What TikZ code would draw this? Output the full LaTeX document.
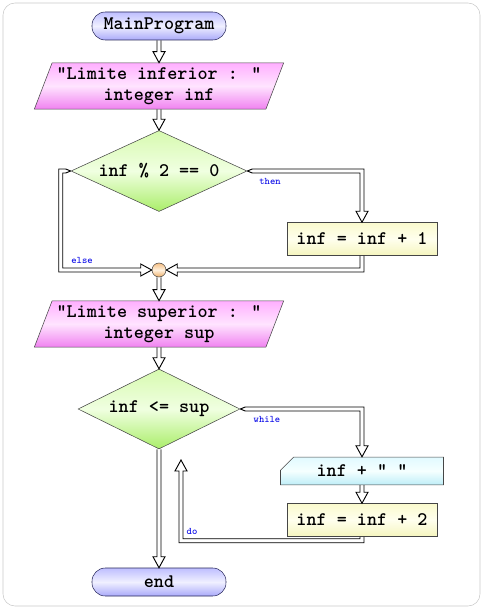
\documentclass[tikz,border=0pt]{standalone}
\usepackage{fontspec}
\usetikzlibrary{shapes.geometric,shapes.misc,calc}
\definecolor{framegray}{RGB}{200,200,200}
\definecolor{boxline}{RGB}{70,70,70}
\definecolor{termline}{RGB}{40,40,90}
\definecolor{termtop}{RGB}{190,190,255}
\definecolor{termmid}{RGB}{240,240,255}
\definecolor{termbot}{RGB}{170,170,250}
\definecolor{iotop}{RGB}{255,175,255}
\definecolor{iomid}{RGB}{255,228,255}
\definecolor{iobot}{RGB}{240,130,240}
\definecolor{dectop}{RGB}{215,250,175}
\definecolor{decmid}{RGB}{240,255,225}
\definecolor{decbot}{RGB}{170,238,105}
\definecolor{proctop}{RGB}{250,250,205}
\definecolor{procmid}{RGB}{255,255,238}
\definecolor{procbot}{RGB}{245,245,190}
\definecolor{outtop}{RGB}{225,250,255}
\definecolor{outmid}{RGB}{245,255,255}
\definecolor{outbot}{RGB}{190,238,248}
\definecolor{juntop}{RGB}{245,190,130}
\definecolor{junmid}{RGB}{255,240,220}
\definecolor{junbot}{RGB}{238,175,105}
\definecolor{tagblue}{RGB}{0,0,230}
\tikzset{
  x=0.75pt, y=-0.75pt,
}
\tikzstyle{flow}=[line width=0.7pt,line join=miter]
\tikzstyle{every node}=[font=\ttfamily\bfseries\fontsize{14.4}{15.75}\selectfont]
\tikzstyle{terminal}=[draw=termline,rounded corners=10pt,minimum width=100.5pt,minimum height=21pt,top color=termtop,bottom color=termbot,middle color=termmid]
\tikzstyle{io}=[trapezium,trapezium left angle=69,trapezium right angle=111,trapezium stretches body,minimum width=183.75pt,minimum height=31.5pt,align=center,draw=boxline,top color=iotop,bottom color=iobot,middle color=iomid]
\tikzstyle{decision}=[diamond,aspect=2.2,inner sep=0pt,minimum width=132pt,minimum height=60.75pt,draw=boxline,top color=dectop,bottom color=decbot,middle color=decmid]
\tikzstyle{process}=[rectangle,minimum width=112.5pt,minimum height=24.75pt,draw=boxline,top color=proctop,bottom color=procbot,middle color=procmid]
\tikzstyle{output}=[chamfered rectangle,chamfered rectangle corners=north west,chamfered rectangle xsep=5pt,chamfered rectangle ysep=5pt,minimum width=122.25pt,minimum height=15pt,inner sep=1pt,draw=boxline,top color=outtop,bottom color=outbot,middle color=outmid]
\tikzstyle{junction}=[circle,minimum size=10.5pt,inner sep=0pt,draw=boxline,top color=juntop,bottom color=junbot,middle color=junmid]
\tikzstyle{tag}=[font=\ttfamily\fontsize{7.5}{8}\selectfont,text=tagblue,inner sep=0pt]
\newcommand{\vflow}[2]{\draw[flow] ($(#1)+(-2,0)$) |- ($(#2)+(-6,-11)$) -- (#2) -- ($(#2)+(6,-11)$) -| ($(#1)+(2,0)$);}
\newcommand{\rdflow}[2]{\draw[flow] (#1) -- ($(#1)+(5,-2)$) -| ($(#2)+(2,-11)$) -- ($(#2)+(6,-11)$) -- (#2) -- ($(#2)+(-6,-11)$) -- ($(#2)+(-2,-11)$) |- ($(#1)+(5,2)$) -- (#1);}

\begin{document}
\begin{tikzpicture}
    \useasboundingbox (0,0) rectangle (484,610);
    \draw[framegray,rounded corners=9pt] (3,3) rectangle (480,606);

    \node[terminal] (start) at (159,26) {MainProgram};
    \node[io] (readinf) at (159,86) {"Limite inferior : "\\integer inf};
    \node[decision] (iseven) at (159,171) {inf \% 2 == 0};
    \node[process] (incone) at (362,239) {inf = inf + 1};
    \node[junction] (merge) at (159,270) {};
    \node[io] (readsup) at (159,324) {"Limite superior : "\\integer sup};
    \node[decision,minimum width=121.5pt,minimum height=60pt] (loop) at (159,409) {inf <= sup};
    \node[output] (print) at (362,471) {inf + " "};
    \node[process] (inctwo) at (362,520) {inf = inf + 2};
    \node[terminal] (stop) at (159,582) {end};
    \coordinate (elsebend) at ($(iseven.west)+(-10,0)$);
    \coordinate (back) at (181,460);

    \vflow{start.south}{readinf.north}
    \vflow{readinf.south}{iseven.north}
    \rdflow{iseven.east}{incone.north}
    \draw[flow] (iseven.west) -- ($(iseven.west)+(-5,-2)$) -- ($(elsebend)+(-2,-2)$) |- ($(merge.west)+(-11,2)$) -- ($(merge.west)+(-11,6)$) -- (merge.west) -- ($(merge.west)+(-11,-6)$) -- ($(merge.west)+(-11,-2)$) -| ($(elsebend)+(2,2)$) -- ($(iseven.west)+(-5,2)$) -- (iseven.west);
    \draw[flow] ($(incone.south)+(2,0)$) |- ($(merge.east)+(11,2)$) -- ($(merge.east)+(11,6)$) -- (merge.east) -- ($(merge.east)+(11,-6)$) -- ($(merge.east)+(11,-2)$) -| ($(incone.south)+(-2,0)$);
    \vflow{merge.south}{readsup.north}
    \vflow{readsup.south}{loop.north}
    \rdflow{loop.east}{print.north}
    \vflow{print.south}{inctwo.north}
    \draw[flow] ($(inctwo.south)+(2,0)$) -- ($(inctwo.south)+(2,6)$) -| ($(back)+(-2,11)$) -- ($(back)+(-6,11)$) -- (back) -- ($(back)+(6,11)$) -- ($(back)+(2,11)$) |- ($(inctwo.south)+(-2,2)$) -- ($(inctwo.south)+(-2,0)$);
    \vflow{loop.south}{stop.north}

    \node[tag] (tthen) at (270,181) {then};
    \node[tag] (telse) at (82,260) {else};
    \node[tag] (twhile) at (267,419) {while};
    \node[tag] (tdo) at (192,531) {do};
  \end{tikzpicture}
\end{document}
